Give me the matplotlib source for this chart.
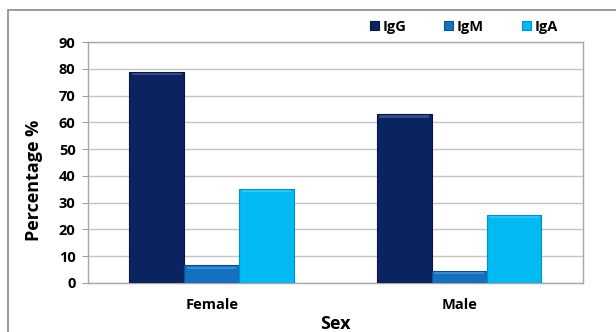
import numpy as np
import matplotlib.pyplot as plt
from matplotlib.patches import Rectangle

categories = ["Female", "Male"]
series = ["IgG", "IgM", "IgA"]
igg = [79, 63]
igm = [6.5, 4.5]
iga = [35, 25.5]
yticks = [0, 10, 20, 30, 40, 50, 60, 70, 80, 90]

colors = ["#0b2461", "#1570c2", "#03b9f2"]
edges = ["#061640", "#0c4f8f", "#0290c0"]

plt.rcParams['font.family'] = ['Open Sans', 'DejaVu Sans']

fig = plt.figure(figsize=(6.16, 3.32), dpi=100)
ax = fig.add_axes([0.143, 0.148, 0.803, 0.725])

# outer frame around the chart area
fig.patches.append(Rectangle((0.013, -0.05), 1.1, 1.02, transform=fig.transFigure,
                             fill=False, edgecolor="#8a8a8a", linewidth=1.2))

x = np.arange(len(categories))
w = 0.222
for i, (name, vals) in enumerate(zip(series, [igg, igm, iga])):
    ax.bar(x + (i - 1) * w, vals, w, color=colors[i], edgecolor=edges[i],
           linewidth=0.8, label=name, zorder=3)
    # light bevel strip along the top of each bar
    ax.bar(x + (i - 1) * w, [0.8] * len(vals), w * 0.9, bottom=np.array(vals) - 1.2,
           color="white", alpha=0.18, linewidth=0, zorder=4)

ax.set_xlim(-0.5, 1.5)
ax.set_ylim(0, 90)
ax.set_yticks(yticks)
ax.set_xticks(x)
ax.set_xticklabels(categories, fontsize=10.5, fontweight="bold")
ax.set_yticklabels([str(t) for t in yticks], fontsize=10.5, fontweight="bold")
ax.tick_params(axis="x", length=0, pad=11)
ax.tick_params(axis="y", length=4, color="#a0a0a0", pad=5)
ax.yaxis.grid(True, color="#c4c4c4", linewidth=1.0, zorder=0)
ax.set_axisbelow(True)
for s in ax.spines.values():
    s.set_color("#a8a8a8")
    s.set_linewidth(1.0)

ax.set_ylabel("Percentage %", fontsize=13, fontweight="bold")
ax.yaxis.set_label_coords(-0.091, 0.424)
ax.set_xlabel("Sex", fontsize=13, fontweight="bold", labelpad=2)

fig.legend(*ax.get_legend_handles_labels(), loc="center left",
           bbox_to_anchor=(0.601, 0.919), bbox_transform=fig.transFigure,
           ncol=3, frameon=False, handlelength=0.6, handleheight=0.6,
           handletextpad=0.25, columnspacing=2.6, borderpad=0, borderaxespad=0,
           prop={"weight": "bold", "size": 10.5})

fig.savefig("out.png", dpi=100)
